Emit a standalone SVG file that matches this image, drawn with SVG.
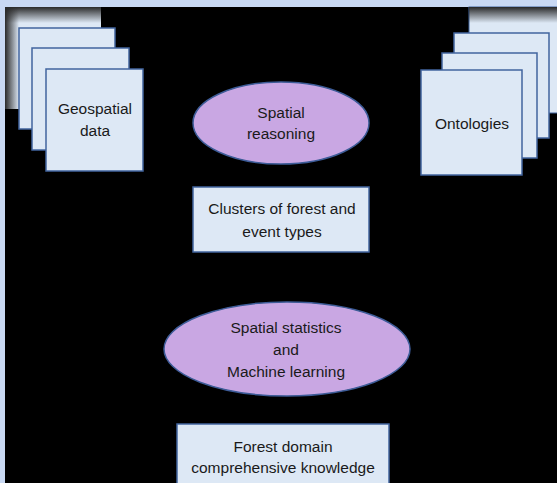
<svg xmlns="http://www.w3.org/2000/svg" width="557" height="483" viewBox="0 0 557 483">
<style>
.box{fill:#dde8f5;stroke:#41649e;stroke-width:1.5}
.ell{fill:#c9a7e3;stroke:#3d5c98;stroke-width:1.5}
.t{font-family:"Liberation Sans",Arial,sans-serif;font-size:15.5px;fill:#1a1a1a;text-anchor:middle}
.con{stroke:#000;stroke-width:1.2;fill:none;marker-end:url(#ah)}
</style>
<defs>
<marker id="ah" markerWidth="8" markerHeight="8" refX="7" refY="4" orient="auto" markerUnits="userSpaceOnUse">
<path d="M0,0 L8,4 L0,8 z" fill="#000"/>
</marker>
<linearGradient id="gTop" x1="0" y1="0" x2="0" y2="1">
<stop offset="0" stop-color="#2a2a2a" stop-opacity="1"/>
<stop offset="1" stop-color="#2a2a2a" stop-opacity="0"/>
</linearGradient>
<linearGradient id="gLeft" x1="0" y1="0" x2="1" y2="0">
<stop offset="0" stop-color="#2a2a2a" stop-opacity="1"/>
<stop offset="1" stop-color="#2a2a2a" stop-opacity="0"/>
</linearGradient>
</defs>
<rect x="0" y="0" width="557" height="483" fill="#c9d9f3"/>
<rect x="5" y="7" width="552" height="476" fill="#000"/>

<g id="connectors">
<line class="con" x1="143" y1="123" x2="192" y2="123"/>
<line class="con" x1="421" y1="123" x2="370" y2="123"/>
<line class="con" x1="281" y1="164" x2="281" y2="186"/>
<line class="con" x1="283" y1="252" x2="284" y2="301"/>
<line class="con" x1="284" y1="397" x2="283" y2="423"/>
</g>

<g id="geospatial">
<rect x="5" y="7" width="96" height="102" fill="#dde8f5"/>
<rect x="5" y="7" width="96" height="16" fill="url(#gTop)"/>
<rect x="5" y="7" width="14" height="102" fill="url(#gLeft)"/>
<rect class="box" x="19" y="28" width="96" height="101"/>
<rect class="box" x="32" y="48" width="97" height="102"/>
<rect class="box" x="46" y="69" width="97" height="102"/>
<text class="t" x="95" y="114">Geospatial</text>
<text class="t" x="95" y="136">data</text>
</g>

<g id="ontologies">
<rect x="469" y="7" width="90" height="106" fill="#dde8f5" stroke="#41649e" stroke-width="1"/>
<rect x="469" y="7" width="90" height="16" fill="url(#gTop)"/>
<rect class="box" x="454" y="33" width="95" height="105"/>
<rect class="box" x="442" y="53" width="95" height="105"/>
<rect class="box" x="421" y="70" width="101" height="105"/>
<text class="t" x="472" y="129">Ontologies</text>
</g>

<g id="spatial-reasoning">
<ellipse class="ell" cx="281" cy="123" rx="88" ry="41"/>
<text class="t" x="281" y="118">Spatial</text>
<text class="t" x="281" y="139">reasoning</text>
</g>

<g id="clusters">
<rect class="box" x="193" y="187" width="176" height="65"/>
<text class="t" x="282" y="214">Clusters of forest and</text>
<text class="t" x="282" y="237">event types</text>
</g>

<g id="spatial-statistics">
<ellipse class="ell" cx="287" cy="349" rx="123" ry="47"/>
<text class="t" x="286" y="333">Spatial statistics</text>
<text class="t" x="286" y="355">and</text>
<text class="t" x="286" y="377">Machine learning</text>
</g>

<g id="forest-knowledge">
<rect class="box" x="177" y="424" width="212" height="70"/>
<text class="t" x="283" y="452">Forest domain</text>
<text class="t" x="283" y="473">comprehensive knowledge</text>
</g>
</svg>
